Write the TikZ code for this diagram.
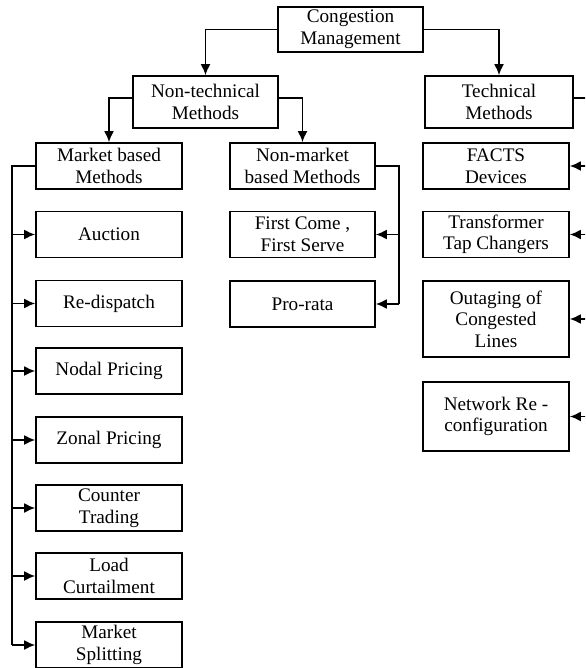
\documentclass[tikz,border=0pt]{standalone}
\usepackage{fontspec}
\setmainfont{Liberation Serif}
\usetikzlibrary{arrows.meta}
\tikzset{
  mbox/.style={draw, line width=0.8pt, minimum width=73pt, minimum height=23pt,
    align=center, inner sep=1pt, font=\fontsize{9.6}{10.8}\selectfont},
  arr/.style={-{Latex[length=5.5pt,width=5pt]}, line width=0.9pt},
  trunk/.style={line width=0.9pt}
}
\begin{document}
\begin{tikzpicture}[x=0.5pt,y=-0.5pt]
\useasboundingbox (0,0) rectangle (585,668);
\clip (0,0) rectangle (585,668);
% top levels
\node [mbox, minimum width=72.5pt, minimum height=22.5pt] (cm) at (350.5,29.5) {Congestion\\Management};
\node [mbox, minimum width=72.5pt, minimum height=26pt] (nontech) at (205.5,102) {Non-technical\\Methods};
\node [mbox, minimum width=74pt, minimum height=26pt] (tech) at (499,102) {Technical\\Methods};
% market based
\node [mbox] (market) at (109,166) {Market based\\Methods};
\node [mbox] (auction) at (109,234.5) {Auction};
\node [mbox] (redispatch) at (109,303.5) {Re-dispatch};
\node [mbox] (nodal) at (109,371) {Nodal Pricing};
\node [mbox] (zonal) at (109,440) {Zonal Pricing};
\node [mbox] (counter) at (109,508) {Counter\\Trading};
\node [mbox] (load) at (109,576) {Load\\Curtailment};
\node [mbox] (splitting) at (109,645) {Market\\Splitting};
% non-market based
\node [mbox, minimum width=72.5pt] (nonmarket) at (302.5,166) {Non-market\\based Methods};
\node [mbox, minimum width=72.5pt] (firstcome) at (302.5,234.5) {First Come ,\\First Serve};
\node [mbox, minimum width=72.5pt] (prorata) at (302.5,304) {Pro-rata};
% technical
\node [mbox] (facts) at (496,166) {FACTS\\Devices};
\node [mbox] (transformer) at (496,234.5) {Transformer\\Tap Changers};
\node [mbox, minimum height=38pt] (outaging) at (496,319) {Outaging of\\Congested\\Lines};
\node [mbox, minimum height=34.5pt] (network) at (496,416.5) {Network Re -\\configuration};
% connectors
\draw[arr] (cm.west) -| (nontech.north);
\draw[arr] (cm.east) -| (tech.north);
\draw[arr] ([yshift=2pt]nontech.west) -| (market.north);
\draw[arr] ([yshift=2pt]nontech.east) -| (nonmarket.north);
\coordinate (ltop) at (12,166);
\coordinate (lbot) at (12,645);
\draw[trunk] (market.west) -- (ltop) -- (lbot);
\foreach \n in {auction,redispatch,nodal,zonal,counter,load,splitting}
  \draw[arr] (ltop |- \n.west) -- (\n.west);
\coordinate (mtop) at (399,166);
\coordinate (mbot) at (399,304);
\draw[trunk] (nonmarket.east) -- (mtop) -- (mbot);
\foreach \n in {firstcome,prorata}
  \draw[arr] (mtop |- \n.east) -- (\n.east);
\coordinate (rtop) at (592,98);
\coordinate (rbot) at (592,416.5);
\draw[trunk] ([yshift=2pt]tech.east) -- (rtop) -- (rbot);
\foreach \n in {facts,transformer,outaging,network}
  \draw[arr] (rtop |- \n.east) -- (\n.east);
\end{tikzpicture}
\end{document}
